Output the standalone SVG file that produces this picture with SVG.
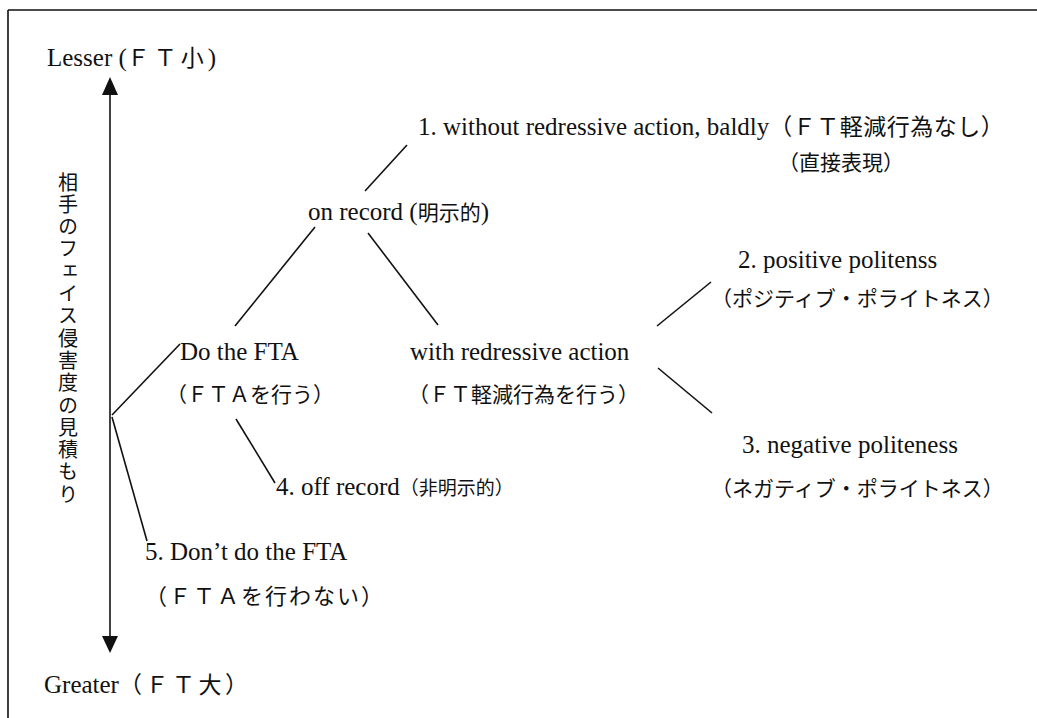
<svg xmlns="http://www.w3.org/2000/svg" width="1037" height="718" viewBox="0 0 1037 718">
<defs>
<style>
text{fill:#111;font-family:"Liberation Serif","Times New Roman",serif;font-size:25px}
.ja{font-family:"Noto Sans CJK JP","Noto Sans CJK SC",sans-serif;font-size:21px}
.vt{font-family:"Noto Sans CJK JP","Noto Sans CJK SC",sans-serif;font-size:20px;writing-mode:vertical-rl;letter-spacing:2.3px}
.ln{stroke:#111;stroke-width:1.6;fill:none}
</style>
</defs>
<rect width="1037" height="718" fill="#fff"/>
<g id="frame"><path class="ln" d="M8 10H1037M8 10V718"/></g>
<g id="axis">
<line class="ln" x1="110" y1="92" x2="110" y2="638"/>
<polygon points="110,77 102,95 118,95" fill="#111"/>
<polygon points="110,653 102,636 118,636" fill="#111"/>
<text class="vt" x="68" y="172">相手のフェイス侵害度の見積もり</text>
</g>
<g id="lesser"><text x="47" y="66">Lesser (<tspan class="ja" style="font-size:23px;letter-spacing:4px">ＦＴ小</tspan>)</text></g>
<g id="greater"><text x="44" y="693">Greater<tspan class="ja" style="font-size:23px;letter-spacing:3.5px">（ＦＴ大）</tspan></text></g>
<g id="do-fta"><text x="180" y="360">Do the FTA</text><text class="ja" x="166" y="402">（ＦＴＡを行う）</text></g>
<g id="on-record"><text x="308" y="220">on record (<tspan class="ja">明示的</tspan>)</text></g>
<g id="bald"><text x="418" y="135">1. without redressive action, baldly<tspan class="ja" style="font-size:23px;letter-spacing:0.5px">（ＦＴ軽減行為なし）</tspan></text><text class="ja" x="778" y="170">（直接表現）</text></g>
<g id="with-redress"><text x="410" y="360">with redressive action</text><text class="ja" x="408" y="402">（ＦＴ軽減行為を行う）</text></g>
<g id="positive"><text x="738" y="268">2. positive politenss</text><text class="ja" x="711" y="306">（ポジティブ・ポライトネス）</text></g>
<g id="negative"><text x="742" y="453">3. negative politeness</text><text class="ja" x="711" y="496">（ネガティブ・ポライトネス）</text></g>
<g id="off-record"><text x="276" y="495">4. off record<tspan class="ja" style="font-size:19px">（非明示的）</tspan></text></g>
<g id="dont"><text x="145" y="560">5. Don’t do the FTA</text><text class="ja" x="145" y="604" style="font-size:22px;letter-spacing:2px">（ＦＴＡを行わない）</text></g>
<g id="connectors">
<line class="ln" x1="112" y1="415" x2="180" y2="344"/>
<line class="ln" x1="112" y1="417" x2="147" y2="541"/>
<line class="ln" x1="235" y1="326" x2="315" y2="227"/>
<line class="ln" x1="365" y1="191" x2="407" y2="145"/>
<line class="ln" x1="368" y1="233" x2="438" y2="325"/>
<line class="ln" x1="236" y1="419" x2="275" y2="483"/>
<line class="ln" x1="657" y1="326" x2="711" y2="282"/>
<line class="ln" x1="658" y1="368" x2="712" y2="413"/>
</g>
</svg>
